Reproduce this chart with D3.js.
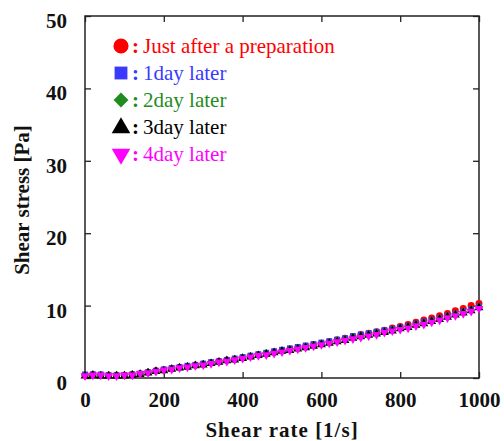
<!DOCTYPE html>
<html>
<head>
<meta charset="utf-8">
<script src="https://cdn.jsdelivr.net/npm/d3@7"></script>
<style>
  body { margin: 0; background: #fff; }
  svg { display: block; }
</style>
</head>
<body>
<svg id="chart" width="504" height="441"></svg>
<script>
const shearRate = [0, 20, 40, 60, 80, 100, 120, 140, 160, 180, 200, 220, 240, 260, 280, 300,
  320, 340, 360, 380, 400, 420, 440, 460, 480, 500, 520, 540, 560, 580, 600, 620, 640, 660,
  680, 700, 720, 740, 760, 780, 800, 820, 840, 860, 880, 900, 920, 940, 960, 980, 1000];

const stressDay0 = [0.4, 0.5, 0.4, 0.4, 0.4, 0.4, 0.5, 0.6, 0.8, 1.0, 1.1, 1.3, 1.5, 1.6, 1.8, 1.9,
  2.1, 2.3, 2.5, 2.6, 2.8, 3.0, 3.2, 3.4, 3.6, 3.8, 4.0, 4.2, 4.4, 4.6, 4.8, 5.0, 5.3, 5.5,
  5.7, 6.0, 6.2, 6.4, 6.6, 6.9, 7.1, 7.4, 7.7, 8.0, 8.3, 8.6, 8.9, 9.3, 9.6, 10.0, 10.3];
const stressDay1 = [0.5, 0.5, 0.5, 0.4, 0.4, 0.4, 0.5, 0.6, 0.8, 1.0, 1.2, 1.4, 1.5, 1.7, 1.8, 2.0,
  2.2, 2.3, 2.5, 2.7, 2.9, 3.1, 3.3, 3.5, 3.7, 3.9, 4.1, 4.3, 4.5, 4.7, 4.9, 5.1, 5.3, 5.5,
  5.8, 6.0, 6.2, 6.4, 6.6, 6.8, 7.0, 7.2, 7.5, 7.8, 8.0, 8.3, 8.6, 8.9, 9.2, 9.5, 9.9];
const stressDay2 = [0.4, 0.4, 0.4, 0.4, 0.4, 0.4, 0.5, 0.6, 0.8, 0.9, 1.1, 1.3, 1.4, 1.6, 1.7, 1.9,
  2.1, 2.2, 2.4, 2.6, 2.8, 3.0, 3.2, 3.4, 3.5, 3.7, 3.9, 4.1, 4.3, 4.5, 4.7, 4.9, 5.1, 5.3,
  5.6, 5.8, 6.0, 6.2, 6.4, 6.6, 6.9, 7.1, 7.4, 7.6, 7.9, 8.2, 8.5, 8.8, 9.1, 9.4, 9.8];
const stressDay3 = [0.3, 0.4, 0.3, 0.3, 0.3, 0.3, 0.4, 0.5, 0.7, 0.9, 1.0, 1.2, 1.4, 1.5, 1.7, 1.8,
  2.0, 2.2, 2.4, 2.5, 2.7, 2.9, 3.1, 3.3, 3.5, 3.7, 3.8, 4.0, 4.2, 4.4, 4.6, 4.8, 5.0, 5.2,
  5.5, 5.7, 5.9, 6.1, 6.3, 6.5, 6.8, 7.0, 7.3, 7.5, 7.8, 8.1, 8.4, 8.7, 9.0, 9.3, 9.7];
const stressDay4 = [0.3, 0.4, 0.4, 0.3, 0.3, 0.4, 0.4, 0.6, 0.7, 0.9, 1.1, 1.2, 1.4, 1.5, 1.7, 1.8,
  2.0, 2.2, 2.3, 2.5, 2.7, 2.9, 3.1, 3.2, 3.4, 3.6, 3.8, 4.0, 4.2, 4.4, 4.6, 4.8, 5.0, 5.2,
  5.4, 5.6, 5.8, 6.0, 6.3, 6.5, 6.7, 6.9, 7.2, 7.4, 7.7, 8.0, 8.3, 8.6, 8.9, 9.2, 9.6];

const seriesNames = ["Just after a preparation", "1day later", "2day later", "3day later", "4day later"];
const seriesColors = ["#ff0000", "#3a3aff", "#1e8c1e", "#000000", "#ff00ff"];
const seriesValues = [stressDay0, stressDay1, stressDay2, stressDay3, stressDay4];
const xTicks = [0, 200, 400, 600, 800, 1000];
const yTicks = [0, 10, 20, 30, 40, 50];

// wide diamond (d3's own diamond is tall and thin)
const wideDiamond = {
  draw(ctx, size) {
    const r = Math.sqrt(size / 2);
    ctx.moveTo(0, -r);
    ctx.lineTo(r, 0);
    ctx.lineTo(0, r);
    ctx.lineTo(-r, 0);
    ctx.closePath();
  }
};
const symbols = [d3.symbolCircle, d3.symbolSquare, wideDiamond, d3.symbolTriangle, d3.symbolTriangle];

const svg = d3.select("#chart");
const margin = { top: 16, right: 25, bottom: 63, left: 85 };
const W = 504, H = 441;
const FONT = "'Liberation Serif', 'Times New Roman', serif";

const x = d3.scaleLinear().domain([0, 1000]).range([margin.left, W - margin.right]);
const y = d3.scaleLinear().domain([0, 50]).range([H - margin.bottom, margin.top]);

function styleAxis(g) {
  g.select(".domain").remove();
  g.selectAll(".tick line").attr("stroke", "#222").attr("stroke-width", 1.3);
  g.selectAll("text")
    .attr("fill", "#111")
    .attr("font-family", FONT)
    .attr("font-weight", "bold")
    .attr("font-size", "21px");
}

// inward ticks on all four sides
svg.append("g")
  .attr("transform", `translate(0,${y(0)})`)
  .call(d3.axisBottom(x).tickValues(xTicks).tickFormat(d3.format("d"))
    .tickSizeInner(-6).tickSizeOuter(0).tickPadding(14))
  .call(styleAxis);

svg.append("g")
  .attr("transform", `translate(0,${y(50)})`)
  .call(d3.axisTop(x).tickValues(xTicks).tickSizeInner(-6).tickSizeOuter(0).tickFormat(""))
  .call(styleAxis);

svg.append("g")
  .attr("transform", `translate(${x(0)},0)`)
  .call(d3.axisLeft(y).tickValues(yTicks).tickSizeInner(-6).tickSizeOuter(0).tickPadding(18))
  .call(styleAxis)
  .call(g => g.selectAll("text").attr("dy", "0.55em"));

svg.append("g")
  .attr("transform", `translate(${x(1000)},0)`)
  .call(d3.axisRight(y).tickValues(yTicks).tickSizeInner(-6).tickSizeOuter(0).tickFormat(""))
  .call(styleAxis);

svg.append("rect")
  .attr("x", x(0))
  .attr("y", y(50))
  .attr("width", x(1000) - x(0))
  .attr("height", y(0) - y(50))
  .attr("fill", "none")
  .attr("stroke", "#222")
  .attr("stroke-width", 1.5);

// data markers
seriesValues.forEach((vals, i) => {
  const sym = d3.symbol().type(symbols[i]).size(i === 0 ? 38 : 34);
  svg.append("g")
    .selectAll("path")
    .data(shearRate.map((r, j) => ({ r, v: vals[j] })))
    .join("path")
    .attr("d", sym)
    .attr("fill", seriesColors[i])
    .attr("transform", d => `translate(${x(d.r)},${y(d.v)})${i === 4 ? " rotate(180)" : ""}`);
});

// legend
const legendSizes = [180, 165, 110, 150, 150];
const legend = svg.append("g").attr("transform", "translate(121,46)");
seriesNames.forEach((name, i) => {
  const row = legend.append("g").attr("transform", `translate(0,${i * 27})`);
  row.append("path")
    .attr("d", d3.symbol().type(symbols[i]).size(legendSizes[i]))
    .attr("transform", i === 4 ? "rotate(180)" : (i === 3 ? "translate(0,1)" : null))
    .attr("fill", seriesColors[i]);
  row.append("text")
    .attr("x", 11)
    .attr("y", 7)
    .attr("fill", seriesColors[i])
    .attr("font-family", FONT)
    .attr("font-weight", "bold")
    .attr("font-size", "21px")
    .text(":");
  row.append("text")
    .attr("x", 22)
    .attr("y", 7)
    .attr("fill", seriesColors[i])
    .attr("font-family", FONT)
    .attr("font-size", "21px")
    .text(name);
});

// axis titles
svg.append("text")
  .attr("x", 282)
  .attr("y", 437)
  .attr("text-anchor", "middle")
  .attr("font-family", FONT)
  .attr("font-weight", "bold")
  .attr("font-size", "21px")
  .attr("letter-spacing", "1px")
  .attr("fill", "#111")
  .text("Shear rate [1/s]");

svg.append("text")
  .attr("transform", "translate(29,200) rotate(-90)")
  .attr("text-anchor", "middle")
  .attr("font-family", FONT)
  .attr("font-weight", "bold")
  .attr("font-size", "21px")
  .attr("fill", "#111")
  .text("Shear stress [Pa]");
</script>
</body>
</html>
